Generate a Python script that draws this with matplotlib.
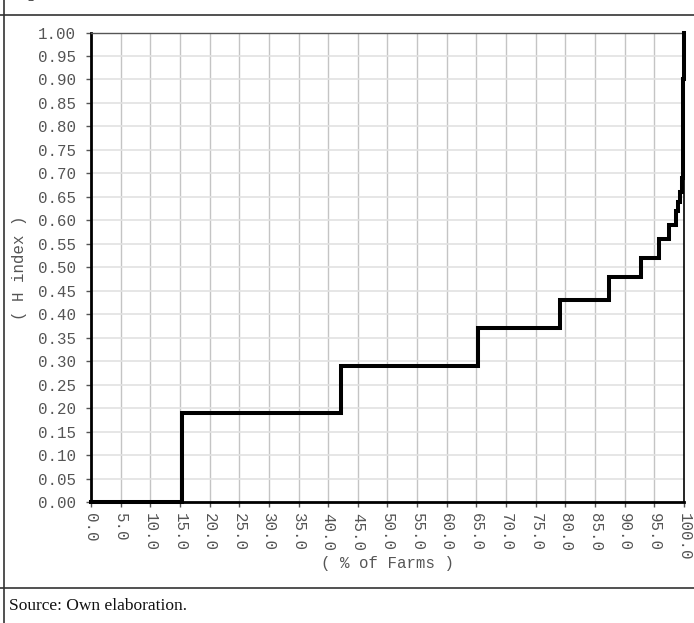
import numpy as np
import matplotlib.pyplot as plt
from matplotlib.lines import Line2D

# share of farms (%) where the H index steps up, and the H level from there on
farms_pct = [0.0, 15.4, 42.1, 65.2, 79.1, 87.4, 92.7, 95.7, 97.4, 98.6, 99.05, 99.3, 99.6, 99.9, 100.0]
h_index = [0.0, 0.19, 0.29, 0.37, 0.43, 0.48, 0.52, 0.56, 0.59, 0.62, 0.64, 0.66, 0.69, 0.90, 1.00]

x_ticks = np.arange(0, 101, 5)
y_ticks = np.arange(0, 1.001, 0.05)

mono = 'Liberation Mono'
serif = 'Liberation Serif'
label_col = '#555555'

fig = plt.figure(figsize=(6.94, 6.23), dpi=100)
ax = fig.add_axes([0.1311, 0.1942, 0.8545, 0.7536])

ax.plot(farms_pct, h_index, drawstyle='steps-post', color='black', lw=2.9,
        solid_joinstyle='miter', zorder=5, clip_on=False)

ax.set_xlim(0, 100)
ax.set_ylim(0, 1)
ax.set_xticks(x_ticks)
ax.set_yticks(y_ticks)
ax.set_xticklabels(['%.1f' % v for v in x_ticks], rotation=270,
                   fontfamily=mono, fontsize=11.3, color=label_col)
ax.set_yticklabels(['%.2f' % v for v in y_ticks],
                   fontfamily=mono, fontsize=11.3, color=label_col)
ax.tick_params(axis='both', direction='out', length=3.6, width=1, color='#555555')
ax.tick_params(axis='y', pad=7.5)
ax.tick_params(axis='x', pad=4)

# grid: vertical darker, horizontal lighter
for v in x_ticks[1:-1]:
    ax.axvline(v, color='#c4c4c4', lw=1, zorder=1)
for v in y_ticks[1:-1]:
    ax.axhline(v, color='#e2e2e2', lw=1.2, zorder=1)

for s in ['left', 'bottom']:
    ax.spines[s].set_linewidth(2)
    ax.spines[s].set_color('black')
ax.spines['top'].set_linewidth(1)
ax.spines['top'].set_color('#555555')
ax.spines['right'].set_linewidth(1.2)
ax.spines['right'].set_color('black')

ax.set_xlabel('( % of Farms )', fontfamily=mono, fontsize=11.3, color=label_col)
ax.xaxis.set_label_coords(0.5, -0.13)
ax.xaxis.label.set_va('center')
ax.set_ylabel('( H index )', fontfamily=mono, fontsize=11.3, color=label_col)
ax.yaxis.set_label_coords(-0.12, 0.5)
ax.yaxis.label.set_va('center')

# table frame around the figure
W, H = 694.0, 623.0
frame = '#333333'
fig.add_artist(Line2D([0, 1], [1 - 15 / H, 1 - 15 / H], color=frame, lw=1.2))
fig.add_artist(Line2D([0, 1], [1 - 588 / H, 1 - 588 / H], color=frame, lw=1.2))
fig.add_artist(Line2D([3.5 / W, 3.5 / W], [0, 1], color=frame, lw=1.2))

# cut-off caption letter from the line above
fig.text(26 / W, 1 + 3 / H, 'g', fontfamily=serif, fontsize=12, color='#222222',
         ha='left', va='baseline')

fig.text(9 / W, 1 - 606 / H, 'Source: Own elaboration.', fontfamily=serif,
         fontsize=12.5, color='#111111', ha='left', va='center')

fig.savefig('out.png', dpi=100)
